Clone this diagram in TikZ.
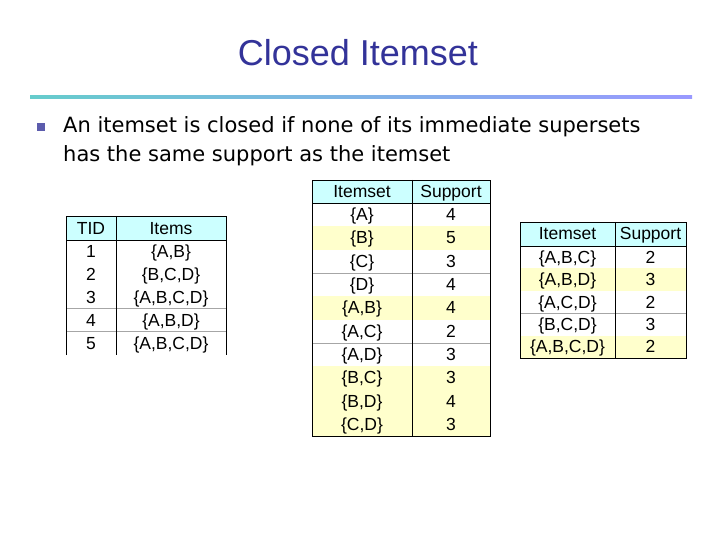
\documentclass[tikz,border=0pt]{standalone}
\usepackage{fontspec}
\setmainfont{Liberation Sans}
\newfontfamily\bodyfont{DejaVu Sans}
\definecolor{titleblue}{HTML}{333399}
\definecolor{hdr}{HTML}{CCFFFF}
\definecolor{yel}{HTML}{FFFFCC}
\definecolor{tealc}{HTML}{66CCCC}
\definecolor{lav}{HTML}{9999FF}
\begin{document}
\begin{tikzpicture}[x=1pt,y=-1pt,
  cell/.style={font=\fontsize{17.5}{17.5}\selectfont,inner sep=0pt,anchor=base,yshift=-6pt},
  bline/.style={draw=black,line width=0.8pt},
  gline/.style={draw=black!35,line width=0.6pt}]
\useasboundingbox[fill=white] (0,0) rectangle (720,540);
\node[titleblue,font=\fontsize{36}{36}\selectfont] (title) at (358,53) {Closed Itemset};
\shade[left color=tealc,right color=lav] (30,95.5) rectangle (692,99);
\fill[titleblue!80] (37,123) rectangle (45,131);
\node[anchor=west,align=left,font=\bodyfont\fontsize{21}{29}\selectfont,inner sep=0pt] (txt) at (63,141)
 {An itemset is closed if none of its immediate supersets\\has the same support as the itemset};
% TID table
\fill[hdr] (66,216) rectangle (226,240);
\foreach \y in {308,331} \draw[gline] (66,\y) -- (226,\y);
\draw[bline] (66,355) -- (66,216) -- (226,216) -- (226,355);
\draw[bline] (66,240) -- (226,240);
\draw[bline] (116,216) -- (116,355);
\node[cell] (h1) at (91,228) {TID};
\node[cell] (h2) at (171,228) {Items};
\foreach \t [count=\i] in {{\{A,B\}},{\{B,C,D\}},{\{A,B,C,D\}},{\{A,B,D\}},{\{A,B,C,D\}}}{
  \node[cell] (ta\i) at (91,{240+23*(\i-0.5)}) {\i};
  \node[cell] (tb\i) at (171,{240+23*(\i-0.5)}) {\t};}
% middle table
\fill[hdr] (312,180) rectangle (490,203);
\foreach \r in {2,5,8,9,10} \fill[yel] (312,{203+23.3*(\r-1)}) rectangle (490,{203+23.3*\r});
\foreach \y in {273,343} \draw[gline] (312,\y) -- (490,\y);
\draw[bline] (312,180) rectangle (490,436);
\draw[bline] (312,203) -- (490,203);
\draw[bline] (412,180) -- (412,436);
\node[cell] (m1) at (362,191.5) {Itemset};
\node[cell] (m2) at (451,191.5) {Support};
\foreach \t/\s [count=\i] in {{\{A\}}/4,{\{B\}}/5,{\{C\}}/3,{\{D\}}/4,{\{A,B\}}/4,{\{A,C\}}/2,{\{A,D\}}/3,{\{B,C\}}/3,{\{B,D\}}/4,{\{C,D\}}/3}{
  \node[cell] (ma\i) at (362,{203+23.3*(\i-0.5)}) {\t};
  \node[cell] (mb\i) at (451,{203+23.3*(\i-0.5)}) {\s};}
% right table
\fill[hdr] (520,222) rectangle (686,246);
\foreach \r in {2,5} \fill[yel] (520,{246+22.4*(\r-1)}) rectangle (686,{246+22.4*\r});
\draw[gline] (520,313) -- (686,313);
\draw[bline] (520,222) rectangle (686,358);
\draw[bline] (520,246) -- (686,246);
\draw[bline] (615,222) -- (615,358);
\node[cell] (r1) at (567.5,234) {Itemset};
\node[cell] (r2) at (650.5,234) {Support};
\foreach \t/\s [count=\i] in {{\{A,B,C\}}/2,{\{A,B,D\}}/3,{\{A,C,D\}}/2,{\{B,C,D\}}/3,{\{A,B,C,D\}}/2}{
  \node[cell] (ra\i) at (567.5,{246+22.4*(\i-0.5)}) {\t};
  \node[cell] (rb\i) at (650.5,{246+22.4*(\i-0.5)}) {\s};}
\end{tikzpicture}
\end{document}
